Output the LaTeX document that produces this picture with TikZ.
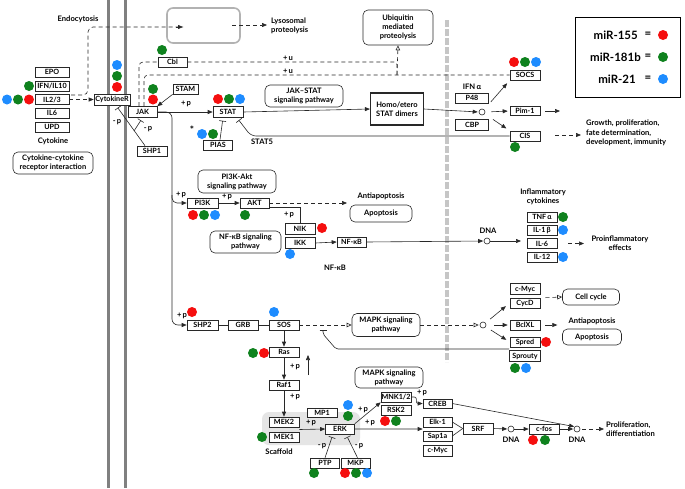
\documentclass[tikz,border=0pt]{standalone}
\usepackage{fontspec}
\setmainfont{Lato}
\usetikzlibrary{arrows.meta,calc}
\definecolor{mred}{RGB}{245,15,15}
\definecolor{mgreen}{RGB}{15,130,30}
\definecolor{mblue}{RGB}{30,140,255}
\definecolor{lnc}{RGB}{40,40,40}
\begin{document}
\begin{tikzpicture}[x=1pt,y=-1pt,
 gbox/.style={draw=lnc, line width=0.6pt, fill=white, minimum width=30pt, minimum height=10pt, inner sep=0.3pt, font=\bfseries\fontsize{7.2}{7.5}\selectfont},
 pbox/.style={draw=lnc, line width=0.6pt, rounded corners=5pt, align=center, inner sep=1pt, fill=white, font=\bfseries\fontsize{7.5}{8.8}\selectfont},
 lbl/.style={align=center, inner sep=0pt, font=\bfseries\fontsize{7.6}{9.5}\selectfont},
 circ/.style={draw=lnc, circle, fill=white, minimum size=6pt, inner sep=0pt, line width=0.6pt},
 conn/.style={draw=lnc, line width=0.6pt},
 arr/.style={conn, -{Triangle[length=5pt,width=4pt]}},
 darr/.style={arr, dash pattern=on 4pt off 3pt},
 oarr/.style={conn, dash pattern=on 4pt off 3pt, -{Triangle[open,length=5pt,width=4.5pt]}},
 dln/.style={conn, dash pattern=on 4pt off 3pt},
 inh/.style={conn, -{Bar[width=7pt]}, shorten >=3pt},
 legtxt/.style={inner sep=0pt, font=\bfseries\fontsize{11.5}{13}\selectfont},
]
\useasboundingbox (0,0) rectangle (685,488);
\fill[white] (0,0) rectangle (685,488);

% membranes
\draw[gray, line width=3pt] (108,0) -- (108,488);
\draw[gray, line width=3pt] (125,0) -- (125,488);
\draw[gray!45, line width=4.5pt, dash pattern=on 7pt off 2pt] (447,20) -- (447,362);

% scaffold
\fill[gray!20, rounded corners=7pt] (262,412) rectangle (360,445);

% ---------- nodes ----------
\node[gbox, minimum width=34pt] (epo) at (52,72) {EPO};
\node[gbox, minimum width=34pt] (ifn) at (52,86) {IFN/IL10};
\node[gbox, minimum width=34pt] (il23) at (52,99.5) {IL2/3};
\node[gbox, minimum width=34pt] (il6a) at (52,113) {IL6};
\node[gbox, minimum width=34pt] (upd) at (52,127) {UPD};
\node[lbl] (cytlbl) at (53,141) {Cytokine};
\node[pbox, minimum width=80pt, minimum height=22pt] (ccri) at (53,163) {Cytokine-cytokine\\receptor interaction};

\node[gbox, minimum width=36pt, minimum height=11pt] (cytr) at (112,99.5) {CytokineR};
\node[gbox, minimum width=29pt, minimum height=11pt] (jak) at (142.5,112) {JAK};
\node[gbox, minimum width=25pt] (stam) at (185.5,89) {STAM};
\node[gbox, minimum width=29pt] (cbl) at (172.5,62) {Cbl};
\node[gbox, minimum height=11pt] (stat) at (228,112) {STAT};
\node[gbox, minimum width=29pt] (pias) at (218,145) {PIAS};
\node[gbox] (shp1) at (152,151) {SHP1};

\node[draw=gray!60, line width=1.6pt, rounded corners=6pt, minimum width=73pt, minimum height=35pt] (lyso) at (203.5,25.5) {};
\node[lbl, align=left, anchor=west] (lysolbl) at (271,26) {Lysosomal\\proteolysis};
\node[lbl] (endolbl) at (78,19) {Endocytosis};
\node[pbox, minimum width=70pt, minimum height=35pt] (ubq) at (398,27.5) {Ubiquitin\\mediated\\proteolysis};
\node[lbl] (u1) at (288,58) {+\,u};
\node[lbl] (u2) at (288,71) {+\,u};

\node[pbox, minimum width=78pt, minimum height=22pt] (jakstat) at (304,96) {JAK–STAT\\signaling pathway};
\node[draw=lnc, line width=1.2pt, fill=white, minimum width=53pt, minimum height=32pt, align=center, inner sep=1pt, font=\bfseries\fontsize{7.5}{9.5}\selectfont] (homo) at (397,109) {Homo/etero\\STAT dimers};
\node[lbl] (stat5) at (262,142) {STAT5};
\node[lbl, font=\bfseries\fontsize{10}{10}\selectfont] (star) at (192,130) {*};

\node[lbl] (ifna) at (472,87) {IFN\,α};
\node[gbox, minimum width=33pt] (p48) at (472,98) {P48};
\node[gbox, minimum width=33pt, minimum height=11pt] (cbp) at (472,125) {CBP};
\node[circ] (c1) at (482,112) {};
\node[gbox] (socs) at (525,75) {SOCS};
\node[gbox, minimum height=9pt] (pim) at (525,111) {Pim-1};
\node[gbox] (cis) at (525,136) {CIS};
\node[lbl, align=left, anchor=west] (growth) at (586,133) {Growth, proliferation,\\fate determination,\\development, immunity};

% legend
\node[draw=black, line width=1pt, minimum width=105pt, minimum height=80pt] (legend) at (627.5,57) {};
\node[legtxt, anchor=east] (l1) at (638,35) {miR-155};
\node[legtxt, anchor=east] (l2) at (641,57) {miR-181b};
\node[legtxt, anchor=east] (l3) at (636,79) {miR-21};
\node[legtxt] (e1) at (648,35) {=};
\node[legtxt] (e2) at (648,57) {=};
\node[legtxt] (e3) at (648,79) {=};

% PI3K / NF-kB
\node[pbox, minimum width=78pt, minimum height=23pt] (pi3kakt) at (237,181.5) {PI3K-Akt\\signaling pathway};
\node[gbox, minimum width=31pt] (pi3k) at (202.5,203) {PI3K};
\node[gbox, minimum width=29pt] (akt) at (254.5,203) {AKT};
\node[lbl] (anti1) at (381,196) {Antiapoptosis};
\node[pbox, minimum width=62pt, minimum height=17pt] (apo1) at (381,213.5) {Apoptosis};
\node[gbox, minimum height=11pt] (nik) at (300,229) {NIK};
\node[gbox, minimum height=11pt] (ikk) at (300,243) {IKK};
\node[pbox, minimum width=71pt, minimum height=22pt] (nfkbsp) at (245.5,242) {NF-κB signaling\\pathway};
\node[gbox, minimum width=29pt] (nfkb) at (351.5,242) {NF-κB};
\node[lbl] (nfkblbl) at (335,268) {NF-κB};
\node[circ] (dna1) at (487,241) {};
\node[lbl] (dna1lbl) at (488,231) {DNA};
\node[lbl] (inflbl) at (543,197) {Inflammatory\\cytokines};
\node[gbox] (tnf) at (542,217) {TNF\,α};
\node[gbox] (il1) at (542,230) {IL-1\,β};
\node[gbox] (il6) at (542,243.5) {IL-6};
\node[gbox] (il12) at (542,257) {IL-12};
\node[lbl] (proinf) at (620,243) {Proinflammatory\\effects};

% MAPK
\node[gbox, minimum width=31pt] (shp2) at (202.5,325) {SHP2};
\node[gbox] (grb) at (243,325) {GRB};
\node[gbox] (sos) at (284,325) {SOS};
\node[pbox, minimum width=68pt, minimum height=23pt] (mapk1) at (386,325) {MAPK signaling\\pathway};
\node[circ] (c2) at (483,325) {};
\node[gbox, minimum height=11pt] (cmyc) at (525,289) {c-Myc};
\node[gbox] (cycd) at (525,303) {CycD};
\node[gbox] (bclxl) at (525,325) {BclXL};
\node[gbox] (spred) at (525,342) {Spred};
\node[gbox, minimum width=31pt, minimum height=11pt] (sprouty) at (525,356) {Sprouty};
\node[pbox, minimum width=57pt, minimum height=16pt] (cellc) at (591,297) {Cell cycle};
\node[lbl] (anti2) at (592,321) {Antiapoptosis};
\node[pbox, minimum width=59pt, minimum height=16pt] (apo2) at (592,337) {Apoptosis};

\node[gbox] (ras) at (284,352) {Ras};
\node[gbox] (raf1) at (284,385) {Raf1};
\node[gbox] (mek2) at (284,422) {MEK2};
\node[gbox] (mek1) at (284,437) {MEK1};
\node[gbox, minimum height=9pt] (mp1) at (322,412.5) {MP1};
\node[gbox, minimum width=29pt] (erk) at (340,429) {ERK};
\node[lbl] (scaf) at (279,452) {Scaffold};
\node[gbox, minimum width=29pt] (ptp) at (325,463) {PTP};
\node[gbox, minimum width=29pt] (mkp) at (355.5,463) {MKP};
\node[pbox, minimum width=68pt, minimum height=21pt] (mapk2) at (389,377.5) {MAPK signaling\\pathway};
\node[gbox] (mnk) at (396,397) {MNK1/2};
\node[gbox] (rsk2) at (396,410) {RSK2};
\node[gbox, minimum width=29pt, minimum height=9pt] (creb) at (437.5,403.5) {CREB};
\node[gbox, minimum width=29pt] (elk1) at (437.5,422) {Elk-1};
\node[gbox, minimum width=29pt] (sap1a) at (437.5,436) {Sap1a};
\node[gbox, minimum width=29pt, minimum height=11pt] (cmyc2) at (437.5,450.5) {c-Myc};
\node[gbox, minimum height=11pt] (srf) at (478,428.5) {SRF};
\node[circ] (dna3) at (511,429) {};
\node[lbl] (dna3lbl) at (511,440) {DNA};
\node[gbox] (cfos) at (544,429) {c-fos};
\node[circ] (dna4) at (577,429) {};
\node[lbl] (dna4lbl) at (577,440) {DNA};
\node[lbl, align=left, anchor=west] (prolif) at (606,429) {Proliferation,\\differentiation};

% +p / -p labels
\node[lbl] (p1) at (186,104) {+\,p};
\node[lbl] (p2) at (181,195) {+\,p};
\node[lbl] (p3) at (227,197) {+\,p};
\node[lbl] (p4) at (289,215) {+\,p};
\node[lbl] (p5) at (182,316) {+\,p};
\node[lbl] (p6) at (295,367) {+\,p};
\node[lbl] (p7) at (295,397) {+\,p};
\node[lbl] (p8) at (311,423) {+\,p};
\node[lbl] (p9) at (363,410) {+\,p};
\node[lbl] (p10) at (370,423) {+\,p};
\node[lbl] (p11) at (422,393) {+\,p};
\node[lbl] (m1) at (117,122) {-\,p};
\node[lbl] (m2) at (148,129) {-\,p};
\node[lbl] (m3) at (322,446) {-\,p};
\node[lbl] (m4) at (359,446) {-\,p};

% ---------- coordinates for free ends ----------
\coordinate (endoA) at (71,95);
\coordinate (endoB) at (183,27);
\coordinate (lysoA) at (232,25);
\coordinate (lysoB) at (267,25);
\coordinate (uj) at (397,75);
\coordinate (pimE) at (560,111);
\coordinate (cisA) at (555,135);
\coordinate (cisB) at (581,135);
\coordinate (antiA) at (347,203);
\coordinate (cytk) at (521,241);
\coordinate (pe1) at (568,243.5);
\coordinate (pe2) at (584,243.5);
\coordinate (upA) at (308,375);
\coordinate (upB) at (308,355);
\coordinate (sbr) at (134,131);
\coordinate (prA) at (582,429);
\coordinate (prB) at (604,429);

% ---------- connectors ----------
\draw[dln, rounded corners=5pt] (endoA) -| (88,27) -- (endoB);
\draw[-{Triangle[length=5pt,width=4pt]}, lnc] (176,27) -- (endoB);
\draw[darr] (il23.east) -- (cytr.west);
\draw[darr] (lysoA) -- (lysoB);

\draw[dln, rounded corners=4pt] ([xshift=-3.5pt]jak.north) |- (cbl.west);
\draw[dln, rounded corners=3pt] (cbl.east) -| (uj);
\draw[dln, rounded corners=4pt] ([xshift=1.5pt]jak.north) |- (socs.west);
\draw[oarr] (uj) -- (ubq.south);

\draw[arr] (stam.south west) -- (jak.north east);
\draw[arr] (jak.east) -- (stat.west);
\draw[arr] (stat.east) -- (homo.west);
\draw[inh] ([xshift=2pt]pias.north) -- ([xshift=-5pt]stat.south);
\draw[inh, rounded corners=5pt] (cis.west) -- (251,136) -- ([xshift=9pt]stat.south);
\draw[inh] ([xshift=-7pt]shp1.north) -- ([xshift=4pt]cytr.south);
\draw[inh] (sbr) -- (jak.south);

\draw[arr, shorten >=1pt] (homo.east) -- (c1.west);
\draw[arr, shorten <=10pt, shorten >=4pt] (c1) -- (socs.south west);
\draw[arr, shorten <=6pt, shorten >=2pt] (c1.east) -- (pim.west);
\draw[arr, shorten <=10pt, shorten >=4pt] (c1) -- (cis.north west);
\draw[arr] ([xshift=5pt]pim.east) -- (pimE);
\draw[darr] (cisA) -- (cisB);

\draw[arr, rounded corners=6pt] (jak.east) -| (172,325) -- (shp2.west);
\draw[arr, rounded corners=5pt] (172,195) |- (pi3k.west);
\draw[arr] (pi3k.east) -- (akt.west);
\draw[darr] (akt.east) -- (antiA);
\draw[conn] ([yshift=-4pt]akt.east) -| (nik.north);
\draw[arr] (ikk.east) -- (nfkb.west);
\draw[arr, shorten >=0.5pt] (nfkb.east) -- (dna1.west);
\draw[arr, shorten <=0pt] (dna1.east) -- (cytk);
\draw[darr] (pe1) -- (pe2);

\draw[conn] (shp2.east) -- (grb.west);
\draw[conn] (grb.east) -- (sos.west);
\draw[oarr] (sos.east) -- (mapk1.west);
\draw[inh, rounded corners=2pt] ([yshift=7pt]sprouty.west) -- (336,349) -- (323,334) -- (323,327);
\draw[oarr, shorten >=1pt] (mapk1.east) -- (c2.west);
\draw[arr, shorten <=6pt, shorten >=5pt] (c2) -- (cycd.west);
\draw[arr, shorten <=8pt, shorten >=2pt] (c2) -- (bclxl.west);
\draw[arr, shorten <=6pt, shorten >=4pt] (c2) -- (spred.west);
\draw[oarr] ([xshift=5pt]cycd.north east) -- (cellc.west);
\draw[arr] ([xshift=5pt]bclxl.east) -- ++(12,0);

\draw[arr] (sos.south) -- (ras.north);
\draw[arr] (ras.south) -- (raf1.north);
\draw[arr] (upA) -- (upB);
\draw[arr] (raf1.south) -- (mek2.north);
\draw[arr] ($(mek2.south east)!0.5!(mek1.north east)$) -- (erk.west);
\draw[inh] (ptp.north) -- ([xshift=-7pt]erk.south);
\draw[inh] ([xshift=2pt]mkp.north) -- ([xshift=6pt]erk.south);
\draw[arr] (erk.north east) -- (mnk.south west);
\draw[arr] (erk.east) -- ($(elk1.south west)!0.5!(sap1a.north west)$);
\draw[arr, rounded corners=2pt] (mnk.east) -- ++(5,0) |- (creb.west);
\draw[conn] (elk1.east) -- (srf.west);
\draw[conn] (sap1a.east) -- (srf.west);
\draw[arr, shorten >=0.5pt] (srf.east) -- (dna3.west);
\draw[arr] (dna3.east) -- (cfos.west);
\draw[arr, shorten >=0.5pt] (cfos.east) -- (dna4.west);
\draw[arr, shorten >=0.5pt] (creb.east) -- (dna4.north west);
\draw[darr] (prA) -- (prB);

% ---------- miRNA dots ----------
\foreach \c/\x/\y in {mgreen/29/86, mblue/7/99.5, mgreen/18/99.5, mred/29/99.5,
  mblue/117/65, mgreen/117/76, mred/117/87, mgreen/153/89, mred/153/99.5, mgreen/162/50,
  mred/218/99, mgreen/229/99, mblue/240/99, mblue/202/134, mgreen/213/134,
  mred/514/62, mgreen/525/62, mblue/536/62, mgreen/515/147,
  mred/193/215, mgreen/204/215, mblue/215/215, mgreen/245/215,
  mred/322/228, mblue/290/254, mgreen/563/217, mblue/563/230, mblue/563/257,
  mred/192/312, mblue/274/312, mred/546/342, mgreen/515/368, mblue/526/368,
  mgreen/253/353, mred/264/353, mgreen/262/437, mblue/348/405, mgreen/348/416,
  mgreen/314/473, mred/345/473, mgreen/356/473, mblue/367/473,
  mred/385/421, mgreen/396/421, mred/533/440, mgreen/545/440,
  mred/663/35, mgreen/663/57, mblue/663/79}
  {\fill[\c] (\x,\y) circle[radius=5pt];}
\end{tikzpicture}
\end{document}
